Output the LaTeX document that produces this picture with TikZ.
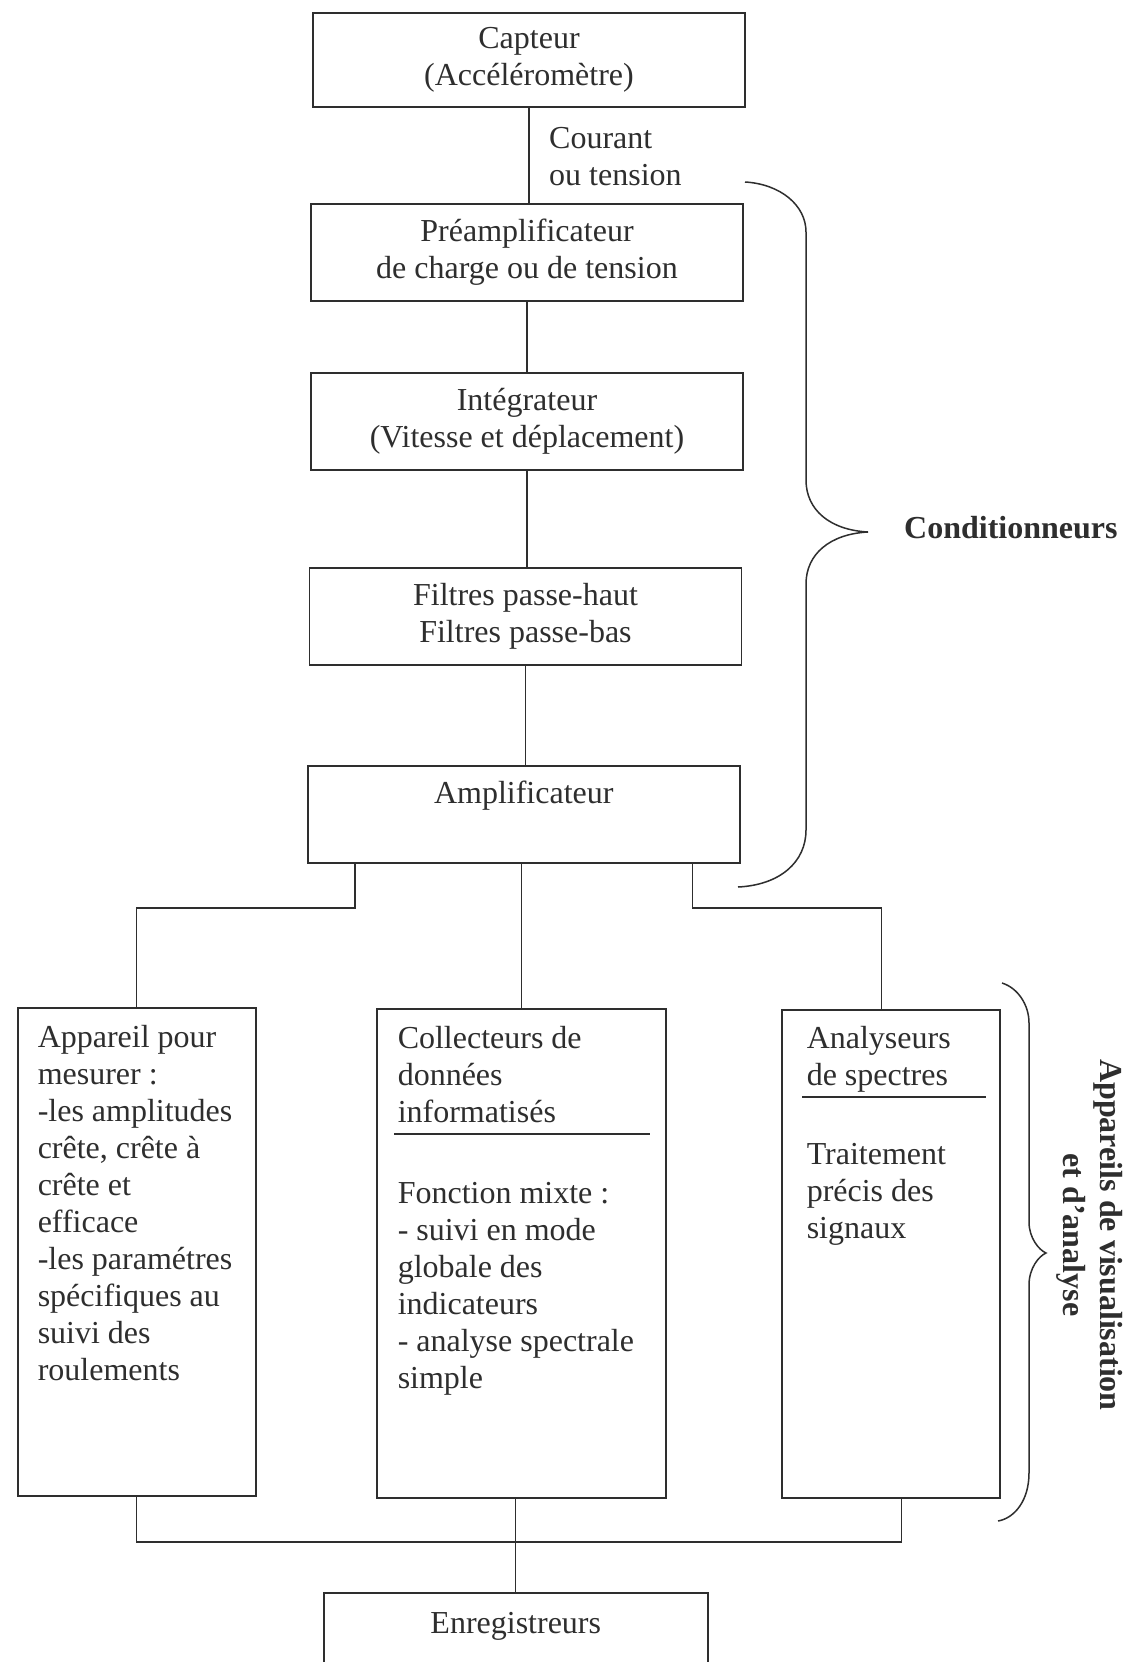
\documentclass[tikz,border=0pt]{standalone}
\usepackage{fontspec}
\setmainfont{Liberation Serif}
\usetikzlibrary{calc}
\definecolor{ink}{gray}{0.18}

\begin{document}
\begin{tikzpicture}[x=1pt,y=-1pt,
  every node/.style={text=ink},
  blk/.style={draw=ink, line width=1.5pt, inner sep=0pt, font=\fontsize{32}{37}\selectfont},
  mid/.style={blk, minimum width=432pt, minimum height=97pt, align=center},
  wire/.style={draw=ink, line width=1.3pt},
  brace/.style={draw=ink, line width=1.5pt},
  lbl/.style={inner sep=0pt, font=\fontsize{32}{37}\selectfont},
]
\useasboundingbox (0,0) rectangle (1147,1662);
\fill[white] (0,0) rectangle (1147,1662);
\clip (0,0) rectangle (1147,1662);

% conditioning chain
\node[mid, minimum height=94pt] (capteur) at (529,60) {Capteur\\(Accéléromètre)};
\node[mid] (preamp) at (527,252.5) {Préamplificateur\\de charge ou de tension};
\node[mid] (integ) at (527,421.5) {Intégrateur\\(Vitesse et déplacement)};
\node[mid] (filtres) at (525.5,616.5) {Filtres passe-haut\\Filtres passe-bas};
\node[blk, anchor=north west] (amp) at (307,765)
  {\parbox[c][97pt][t]{432pt}{\centering\rule{0pt}{38pt}Amplificateur}};

\node[lbl, anchor=west, align=left] (courant) at (549,157) {Courant\\ou tension};

% display and analysis devices
\node[blk, anchor=north west] (app) at (17,1007)
  {\parbox[c][488pt][t]{238pt}{\raggedright\leftskip=20pt\rule{0pt}{40pt}Appareil pour\\
   mesurer :\\
   -les amplitudes\\
   crête, crête à\\
   crête et\\
   efficace\\
   -les paramétres\\
   spécifiques au\\
   suivi des\\
   roulements}};
\node[blk, anchor=north west] (coll) at (376,1008)
  {\parbox[c][489pt][t]{289pt}{\raggedright\leftskip=21pt\rule{0pt}{40pt}Collecteurs de\\
   données\\
   informatisés\\[44pt]
   Fonction mixte :\\
   - suivi en mode\\
   globale des\\
   indicateurs\\
   - analyse spectrale\\
   simple}};
\node[blk, anchor=north west] (ana) at (781,1009)
  {\parbox[c][488pt][t]{218pt}{\raggedright\leftskip=25pt\rule{0pt}{39pt}Analyseurs\\
   de spectres\\[42pt]
   Traitement\\
   précis des\\
   signaux}};
\node[blk, anchor=north west] (enr) at (323,1592)
  {\parbox[c][120pt][t]{384pt}{\centering\rule{0pt}{41pt}Enregistreurs}};

% rules under the headings
\draw[wire] ([xshift=18pt,yshift=-126pt]coll.north west) -- ([xshift=-17pt,yshift=-126pt]coll.north east);
\draw[wire] ([xshift=21pt,yshift=-88pt]ana.north west) -- ([xshift=-15pt,yshift=-88pt]ana.north east);

% chain connectors
\draw[wire] (capteur.south) -- (capteur.south |- preamp.north);
\draw[wire] (preamp.south) -- (preamp.south |- integ.north);
\draw[wire] (integ.south) -- (integ.south |- filtres.north);
\draw[wire] (filtres.south) -- (filtres.south |- amp.north);

% split towards the three devices
\coordinate (ysplit) at (0,908);
\coordinate (anaIn) at ([xshift=-9pt]ana.north);
\draw[wire] ([xshift=48pt]amp.south west) |- (ysplit -| app.north) -- (app.north);
\draw[wire] (coll.north |- amp.south) -- (coll.north);
\draw[wire] ([xshift=-48pt]amp.south east) |- (ysplit -| anaIn) -- (anaIn);

% join towards the recorders
\coordinate (yjoin) at (0,1542);
\coordinate (anaOut) at ([xshift=11pt]ana.south);
\draw[wire] (app.south) |- (yjoin -| anaOut) -- (anaOut);
\draw[wire] (enr.north |- coll.south) -- (enr.north);

% braces
\draw[brace] (745,182) .. controls (780,184) and (806,205) .. (806,232)
  -- (806,480) .. controls (806,510) and (830,530) .. (868,532)
  .. controls (830,534) and (806,554) .. (806,584)
  -- (806,830) .. controls (806,862) and (780,885) .. (738,887);
\draw[brace] (1002,983) .. controls (1018,988) and (1029,1005) .. (1029,1023)
  -- (1029,1222) .. controls (1029,1238) and (1039,1250) .. (1046,1253)
  .. controls (1039,1256) and (1029,1268) .. (1029,1285)
  -- (1029,1473) .. controls (1029,1500) and (1015,1518) .. (998,1521);

% group labels
\node[lbl, anchor=west, font=\fontsize{32}{37}\selectfont\bfseries] (cond) at (904,528) {Conditionneurs};
\node[lbl, rotate=-90, align=center, font=\fontsize{32}{37}\selectfont\bfseries] (visu) at (1090,1235)
  {Appareils de visualisation\\et d’analyse};
\end{tikzpicture}
\end{document}
